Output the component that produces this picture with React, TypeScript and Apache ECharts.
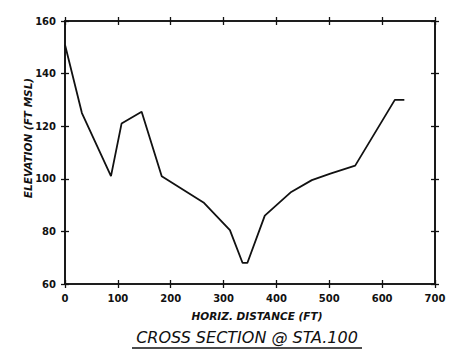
import React, { useEffect, useRef } from "react";
import * as echarts from "echarts";

const distances = [0, 32, 87, 107, 145, 183, 262, 312, 336, 345, 378, 428, 467, 502, 549, 624, 642];
const elevations = [151, 125, 101, 121, 125.5, 101, 91, 80.5, 68, 68, 86, 95, 99.5, 102, 105, 130, 130];
const xTicks = [0, 100, 200, 300, 400, 500, 600, 700];
const yTicks = [60, 80, 100, 120, 140, 160];
const xName = "HORIZ. DISTANCE (FT)";
const yName = "ELEVATION (FT MSL)";
const titleText = "CROSS SECTION @ STA.100";

export default function App() {
  const ref = useRef<HTMLDivElement>(null);
  useEffect(() => {
    if (!ref.current) return;
    const chart = echarts.init(ref.current, undefined, { renderer: "svg" });
    const font = "DejaVu Sans";
    const ink = "#111";
    const mkX = (pos: "bottom" | "top", inside: boolean, labels: boolean) => ({
      type: "value",
      position: pos,
      min: xTicks[0],
      max: xTicks[xTicks.length - 1],
      interval: 100,
      axisLine: { show: true, onZero: false, lineStyle: { color: ink, width: 1.6 } },
      axisTick: { show: true, inside, length: 4, lineStyle: { color: ink, width: 1.3 } },
      axisLabel: {
        show: labels,
        margin: 9,
        color: ink,
        fontFamily: font,
        fontWeight: "bold",
        fontSize: 10,
      },
      splitLine: { show: false },
    });
    const mkY = (pos: "left" | "right", inside: boolean, labels: boolean) => ({
      type: "value",
      position: pos,
      min: yTicks[0],
      max: yTicks[yTicks.length - 1],
      interval: 20,
      axisLine: { show: true, onZero: false, lineStyle: { color: ink, width: 1.6 } },
      axisTick: { show: true, inside, length: 4, lineStyle: { color: ink, width: 1.3 } },
      axisLabel: {
        show: labels,
        margin: 9,
        color: ink,
        fontFamily: font,
        fontWeight: "bold",
        fontSize: 10,
      },
      splitLine: { show: false },
    });
    chart.setOption({
      animation: false,
      backgroundColor: "#fff",
      grid: { left: 65, top: 21, right: 25, bottom: 76, containLabel: false },
      xAxis: [
        mkX("bottom", false, true),
        mkX("bottom", true, false),
        mkX("top", false, false),
        mkX("top", true, false),
      ],
      yAxis: [
        mkY("left", false, true),
        mkY("left", true, false),
        mkY("right", false, false),
        mkY("right", true, false),
      ],
      series: [
        {
          type: "line",
          xAxisIndex: 0,
          yAxisIndex: 0,
          data: distances.map((d, i) => [d, elevations[i]]),
          showSymbol: false,
          symbol: "none",
          lineStyle: { color: ink, width: 1.8 },
        },
      ],
      graphic: [
        {
          type: "text",
          x: 257,
          y: 316,
          style: {
            text: xName,
            font: `italic bold 10.5px "${font}"`,
            fill: ink,
            textAlign: "center",
            textVerticalAlign: "middle",
          },
        },
        {
          type: "text",
          x: 28,
          y: 138,
          rotation: Math.PI / 2,
          style: {
            text: yName,
            font: `italic bold 10.5px "${font}"`,
            fill: ink,
            textAlign: "center",
            textVerticalAlign: "middle",
          },
        },
        {
          type: "text",
          x: 247,
          y: 337,
          style: {
            text: titleText,
            font: `italic 16px "${font}"`,
            fill: ink,
            textAlign: "center",
            textVerticalAlign: "middle",
          },
        },
        {
          type: "line",
          shape: { x1: 132, y1: 348, x2: 362, y2: 348 },
          style: { stroke: ink, lineWidth: 1.6 },
        },
      ],
    });
    return () => chart.dispose();
  }, []);
  return (
    <div
      ref={ref}
      style={{ position: "absolute", left: 0, top: 0, width: 460, height: 360 }}
    />
  );
}
